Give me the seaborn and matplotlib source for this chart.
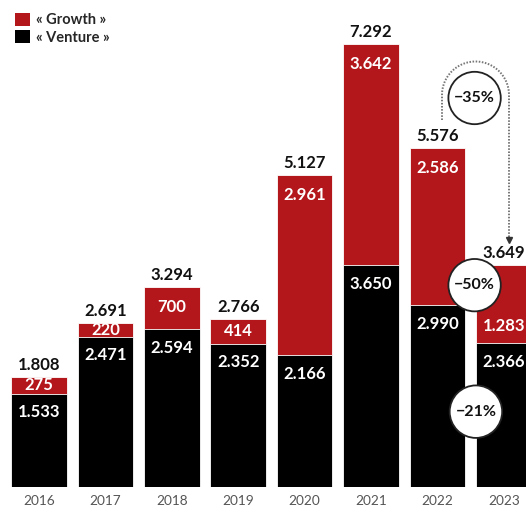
import numpy as np
import pandas as pd
import matplotlib
matplotlib.use("Agg")
import matplotlib.pyplot as plt
import seaborn as sns
from matplotlib.patches import Patch

years = ["2016", "2017", "2018", "2019", "2020", "2021", "2022", "2023"]
venture = [1533, 2471, 2594, 2352, 2166, 3650, 2990, 2366]
growth = [275, 220, 700, 414, 2961, 3642, 2586, 1283]
totals = [1808, 2691, 3294, 2766, 5127, 7292, 5576, 3649]
changes = ["−35%", "−50%", "−21%"]

RED = "#b3161b"
BLACK = "#000000"

sns.set_theme(style="white")
plt.rcParams["font.family"] = ["Lato", "DejaVu Sans"]

W, H = 526, 509
fig = plt.figure(figsize=(W / 100, H / 100), dpi=100)
base_px = 487
ax = fig.add_axes([0, (H - base_px) / H, 1, base_px / H])

df = pd.DataFrame({"year": years, "venture": venture, "growth": growth, "total": totals})

bw = 0.84
sns.barplot(data=df, x="year", y="total", color=RED, width=bw, ax=ax,
            saturation=1, edgecolor="white", linewidth=0.6)
sns.barplot(data=df, x="year", y="venture", color=BLACK, width=bw, ax=ax,
            saturation=1, edgecolor="white", linewidth=0.6)

px_per_x = 66.4
x0_px = 39
px_per_y = 0.0608
ax.set_xlim(-x0_px / px_per_x, (W - x0_px) / px_per_x)
ax.set_ylim(0, base_px / px_per_y)
for s in ax.spines.values():
    s.set_visible(False)
ax.set_yticks([])
ax.set_xlabel("")
ax.set_ylabel("")
ax.tick_params(axis="x", length=0, pad=6, labelsize=9.8, labelcolor="#555555")

def fmt(v):
    return f"{v:,}".replace(",", ".")

PT = 0.72  # points per pixel
lbl_kw = dict(ha="center", va="center", color="white", fontsize=12, fontweight="bold")
last = len(years) - 1
for i in range(len(years)):
    v, g, t = venture[i], growth[i], totals[i]
    gh_px = g * px_per_y
    if i == last:
        # sit near the bottom of the segment, clear of the change bubble
        ax.annotate(fmt(g), (i, v), xytext=(0, 17 * PT), textcoords="offset points", **lbl_kw)
    else:
        off = min(20, gh_px / 2)
        ax.annotate(fmt(g), (i, t), xytext=(0, -off * PT), textcoords="offset points", **lbl_kw)
    ax.annotate(fmt(v), (i, v), xytext=(0, -18.5 * PT), textcoords="offset points", **lbl_kw)
    ax.annotate(fmt(t), (i, t), xytext=(0, 12 * PT), textcoords="offset points",
                ha="center", va="center", color="#111111", fontsize=12, fontweight="bold")

# dotted arc arrow from 2022 to 2023
def px2d(xp, yp):
    return (xp - x0_px) / px_per_x, (base_px - yp) / px_per_y

xl, xr = 442, 509
cx = (xl + xr) / 2
r = (xr - xl) / 2
cy = 95
theta = np.linspace(np.pi, 0, 60)
xs = [xl] + list(cx + r * np.cos(theta)) + [xr]
ys = [120] + list(cy - r * np.sin(theta)) + [238]
dx, dy = zip(*[px2d(a, b) for a, b in zip(xs, ys)])
ax.plot(dx, dy, color="#777777", lw=1.4, ls=(0, (0.8, 0.8)), solid_capstyle="butt")
ax.plot(*px2d(xr, 240), marker="v", color="#333333", markersize=4)

circ = dict(boxstyle="circle,pad=0.36", fc="white", ec="#222222", lw=1.3)
ckw = dict(ha="center", va="center", fontsize=11.5, fontweight="bold", color="#111111")
cxd = 6.56
ax.text(cxd, px2d(0, 98)[1], changes[0], bbox=circ, **ckw)
ax.text(cxd, (venture[6] + totals[7]) / 2, changes[1], bbox=circ, **ckw)
ax.text(cxd + 0.02, (venture[6] + venture[7]) / 4 - 100, changes[2], bbox=circ, **ckw)

handles = [Patch(facecolor=RED, edgecolor="none"), Patch(facecolor=BLACK, edgecolor="none")]
leg = fig.legend(handles, ["« Growth »", "« Venture »"], loc="upper left",
                 bbox_to_anchor=(0.01, 0.995), frameon=False, handlelength=1.0,
                 handleheight=1.0, handletextpad=0.4, labelspacing=0.2,
                 borderaxespad=0.3, prop={"weight": "bold", "size": 10.5})

fig.savefig("out.png", dpi=100, facecolor="white")
